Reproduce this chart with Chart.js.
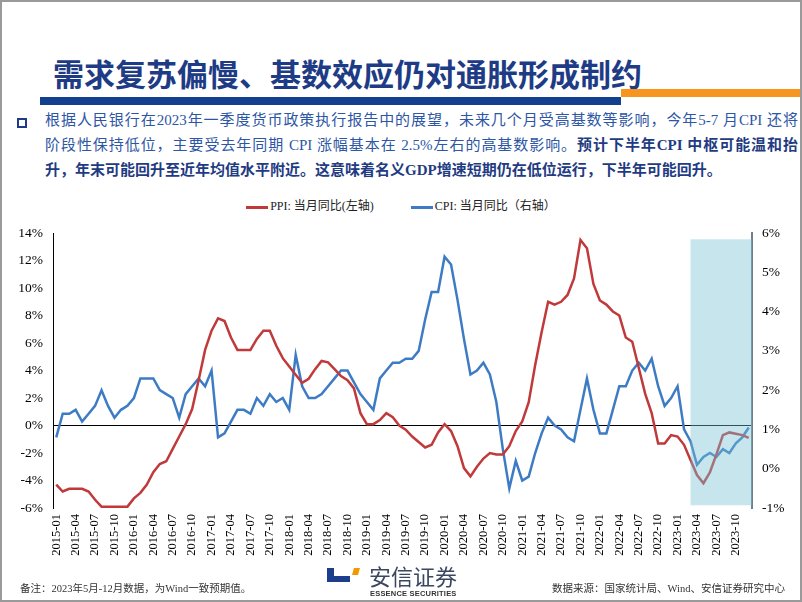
<!DOCTYPE html>
<html>
<head>
<meta charset="utf-8">
<script src="https://cdn.jsdelivr.net/npm/chart.js@4"></script>
<style>
    body { margin: 0; width: 802px; height: 602px; position: relative; background: #fff; overflow: hidden;
           font-family: "Liberation Serif", "Noto Sans CJK SC", serif; }
    .abs { position: absolute; }
    #frame { left: 0; top: 0; width: 802px; height: 602px; box-sizing: border-box; border: 2px solid #9a9a9a; pointer-events: none; z-index: 5; }
    #title { left: 53px; top: 56px; font-size: 31px; line-height: 34px; font-weight: bold; color: #1E3C85;
             font-family: "Noto Sans CJK SC", sans-serif; white-space: nowrap; }
    #barBlue { left: 40px; top: 97px; width: 581px; height: 8px; background: #123F8E; }
    #barOrange { left: 621px; top: 89px; width: 181px; height: 8px; background: #F6961E; }
    #bullet { left: 17px; top: 118px; width: 6px; height: 6px; border: 2px solid #1E3C85; }
    #para { left: 45px; top: 108px; width: 753px; font-size: 15px; line-height: 25px; color: #2D56A5; }
    #para .ln { text-align: justify; text-align-last: justify; white-space: nowrap; }
    #para .ln.last { text-align: left; text-align-last: left; }
    #para b { color: #1F3B82; }
    #legend { left: 0; top: 196px; width: 802px; text-align: center; font-size: 12px; color: #222; white-space: nowrap; }
    #legend span.sw { display: inline-block; width: 22px; height: 2.5px; vertical-align: middle; margin-right: 2px; }
    #legend .item { margin: 0 17px; }
    #chartBox { left: 0; top: 215px; }
    .foot { top: 580px; font-size: 10.5px; color: #333; white-space: nowrap; }
    #logoV { left: 327px; top: 568px; width: 7px; height: 14px; background: #1D3E8C; }
    #logoH { left: 327px; top: 576px; width: 23px; height: 6px; background: #1D3E8C; }
    #logoO { left: 353px; top: 568px; width: 6px; height: 7px; background: #F39800; transform: skewX(-15deg); }
    #logoCn { left: 369px; top: 563px; font-size: 22px; line-height: 24px; color: #3B4760; font-family: "Noto Sans CJK SC", sans-serif; }
    #logoEn { left: 370px; top: 589px; font-size: 7.5px; line-height: 9px; color: #333; font-weight: bold;
              font-family: "Liberation Sans Narrow", "Liberation Sans", sans-serif; letter-spacing: 0.2px; }
</style>
</head>
<body>
<div class="abs" id="title">需求复苏偏慢、基数效应仍对通胀形成制约</div>
<div class="abs" id="barBlue"></div>
<div class="abs" id="barOrange"></div>
<div class="abs" id="bullet"></div>
<div class="abs" id="para">
    <div class="ln">根据人民银行在2023年一季度货币政策执行报告中的展望，未来几个月受高基数等影响，今年5-7 月CPI 还将</div>
    <div class="ln">阶段性保持低位，主要受去年同期 CPI 涨幅基本在 2.5%左右的高基数影响。<b>预计下半年CPI 中枢可能温和抬</b></div>
    <div class="ln last"><b>升，年末可能回升至近年均值水平附近。这意味着名义GDP增速短期仍在低位运行，下半年可能回升。</b></div>
</div>
<div class="abs" id="legend">
    <span class="item"><span class="sw" style="background:#C0393B"></span>PPI: 当月同比(左轴)</span>
    <span class="item"><span class="sw" style="background:#3D7CC4"></span>CPI: 当月同比（右轴）</span>
</div>
<div class="abs" id="chartBox"><canvas id="myChart" width="802" height="385"></canvas></div>
<div class="abs foot" style="left:20px">备注：2023年5月-12月数据，为Wind一致预期值。</div>
<div class="abs foot" style="right:17px">数据来源：国家统计局、Wind、安信证券研究中心</div>
<div class="abs" id="logoV"></div>
<div class="abs" id="logoH"></div>
<div class="abs" id="logoO"></div>
<div class="abs" id="logoCn">安信证券</div>
<div class="abs" id="logoEn">ESSENCE SECURITIES</div>
<div class="abs" id="frame"></div>

<script>
// months 2015-01 .. 2023-12
const years = [2015, 2016, 2017, 2018, 2019, 2020, 2021, 2022, 2023];
let months = [];
for (let i = 0; i < years.length; i++) {
    for (let m = 1; m <= 12; m++) {
        months.push(years[i] + '-' + (m < 10 ? '0' + m : m));
    }
}

// PPI 当月同比 (%), left axis
const ppi = [
    -4.3, -4.8, -4.6, -4.6, -4.6, -4.8, -5.4, -5.9, -5.9, -5.9, -5.9, -5.9,
    -5.3, -4.9, -4.3, -3.4, -2.8, -2.6, -1.7, -0.8, 0.1, 1.2, 3.3, 5.5,
    6.9, 7.8, 7.6, 6.4, 5.5, 5.5, 5.5, 6.3, 6.9, 6.9, 5.8, 4.9,
    4.3, 3.7, 3.1, 3.4, 4.1, 4.7, 4.6, 4.1, 3.6, 3.3, 2.7, 0.9,
    0.1, 0.1, 0.4, 0.9, 0.6, 0.0, -0.3, -0.8, -1.2, -1.6, -1.4, -0.5,
    0.1, -0.4, -1.5, -3.1, -3.7, -3.0, -2.4, -2.0, -2.1, -2.1, -1.5, -0.4,
    0.3, 1.7, 4.4, 6.8, 9.0, 8.8, 9.0, 9.5, 10.7, 13.5, 12.9, 10.3,
    9.1, 8.8, 8.3, 8.0, 6.4, 6.1, 4.2, 2.3, 0.9, -1.3, -1.3, -0.7,
    -0.8, -1.4, -2.5, -3.6, -4.2, -3.4, -2.1, -0.7, -0.5, -0.6, -0.7, -0.9
];

// CPI 当月同比 (%), right axis
const cpi = [
    0.8, 1.4, 1.4, 1.5, 1.2, 1.4, 1.6, 2.0, 1.6, 1.3, 1.5, 1.6,
    1.8, 2.3, 2.3, 2.3, 2.0, 1.9, 1.8, 1.3, 1.9, 2.1, 2.3, 2.1,
    2.5, 0.8, 0.9, 1.2, 1.5, 1.5, 1.4, 1.8, 1.6, 1.9, 1.7, 1.8,
    1.5, 2.9, 2.1, 1.8, 1.8, 1.9, 2.1, 2.3, 2.5, 2.5, 2.2, 1.9,
    1.7, 1.5, 2.3, 2.5, 2.7, 2.7, 2.8, 2.8, 3.0, 3.8, 4.5, 4.5,
    5.4, 5.2, 4.3, 3.3, 2.4, 2.5, 2.7, 2.4, 1.7, 0.5, -0.5, 0.2,
    -0.3, -0.2, 0.4, 0.9, 1.3, 1.1, 1.0, 0.8, 0.7, 1.5, 2.3, 1.5,
    0.9, 0.9, 1.5, 2.1, 2.1, 2.5, 2.7, 2.5, 2.8, 2.1, 1.6, 1.8,
    2.1, 1.0, 0.7, 0.1, 0.3, 0.4, 0.3, 0.5, 0.4, 0.65, 0.8, 1.05
];

// shaded forecast band
const shadeStart = '2023-03';
const shadeTop = 13.55;     // left axis units
const shadeBottom = -5.8;

const shadePlugin = {
    id: 'shade',
    afterDatasetsDraw(chart) {
        const c = chart.ctx;
        const x = chart.scales.x;
        const y = chart.scales.y;
        const x0 = x.getPixelForValue(months.indexOf(shadeStart));
        const x1 = chart.chartArea.right;
        const y0 = y.getPixelForValue(shadeTop);
        const y1 = y.getPixelForValue(shadeBottom);
        c.save();
        c.fillStyle = 'rgba(120, 192, 212, 0.42)';
        c.fillRect(x0, y0, x1 - x0, y1 - y0);
        c.restore();
    }
};

const tickFont = { family: '"Liberation Serif", serif', size: 13.5 };

const ctx = document.getElementById('myChart');
const myChart = new Chart(ctx, {
    type: 'line',
    data: {
        labels: months,
        datasets: [
            {
                label: 'PPI: 当月同比(左轴)',
                data: ppi,
                yAxisID: 'y',
                borderColor: '#C0393B',
                borderWidth: 2.5,
                pointRadius: 0,
                tension: 0
            },
            {
                label: 'CPI: 当月同比（右轴）',
                data: cpi,
                yAxisID: 'y1',
                borderColor: '#3D7CC4',
                borderWidth: 2.5,
                pointRadius: 0,
                tension: 0
            }
        ]
    },
    options: {
        responsive: false,
        animation: false,
        layout: { padding: { top: 11, left: 0, right: 0, bottom: 0 } },
        plugins: {
            legend: { display: false },
            tooltip: { enabled: false }
        },
        scales: {
            x: {
                offset: true,
                grid: { display: false, drawTicks: false },
                border: { display: false },
                ticks: {
                    autoSkip: false,
                    maxRotation: 90,
                    minRotation: 90,
                    padding: 6,
                    color: '#000',
                    font: { family: '"Liberation Serif", serif', size: 12.5 },
                    callback: function(val, idx) {
                        return idx % 3 === 0 ? months[idx] : '';
                    }
                },
                afterFit: function(scale) { scale.height = 92; }
            },
            y: {
                position: 'left',
                min: -6,
                max: 14,
                ticks: {
                    stepSize: 2,
                    padding: 10,
                    color: '#000',
                    font: tickFont,
                    callback: v => v + '%'
                },
                grid: {
                    drawTicks: false,
                    lineWidth: 1,
                    color: c => (c.tick && c.tick.value === 0) ? '#000' : 'rgba(0,0,0,0)'
                },
                border: { display: true, color: '#000', width: 1 },
                afterFit: function(scale) { scale.width = 53; }
            },
            y1: {
                position: 'right',
                min: -1,
                max: 6,
                ticks: {
                    stepSize: 1,
                    padding: 10,
                    color: '#000',
                    font: tickFont,
                    callback: v => v + '%'
                },
                grid: { display: false, drawTicks: false },
                border: { display: true, color: '#6F8090', width: 2 },
                afterFit: function(scale) { scale.width = 50; }
            }
        }
    },
    plugins: [shadePlugin]
});
</script>
</body>
</html>
